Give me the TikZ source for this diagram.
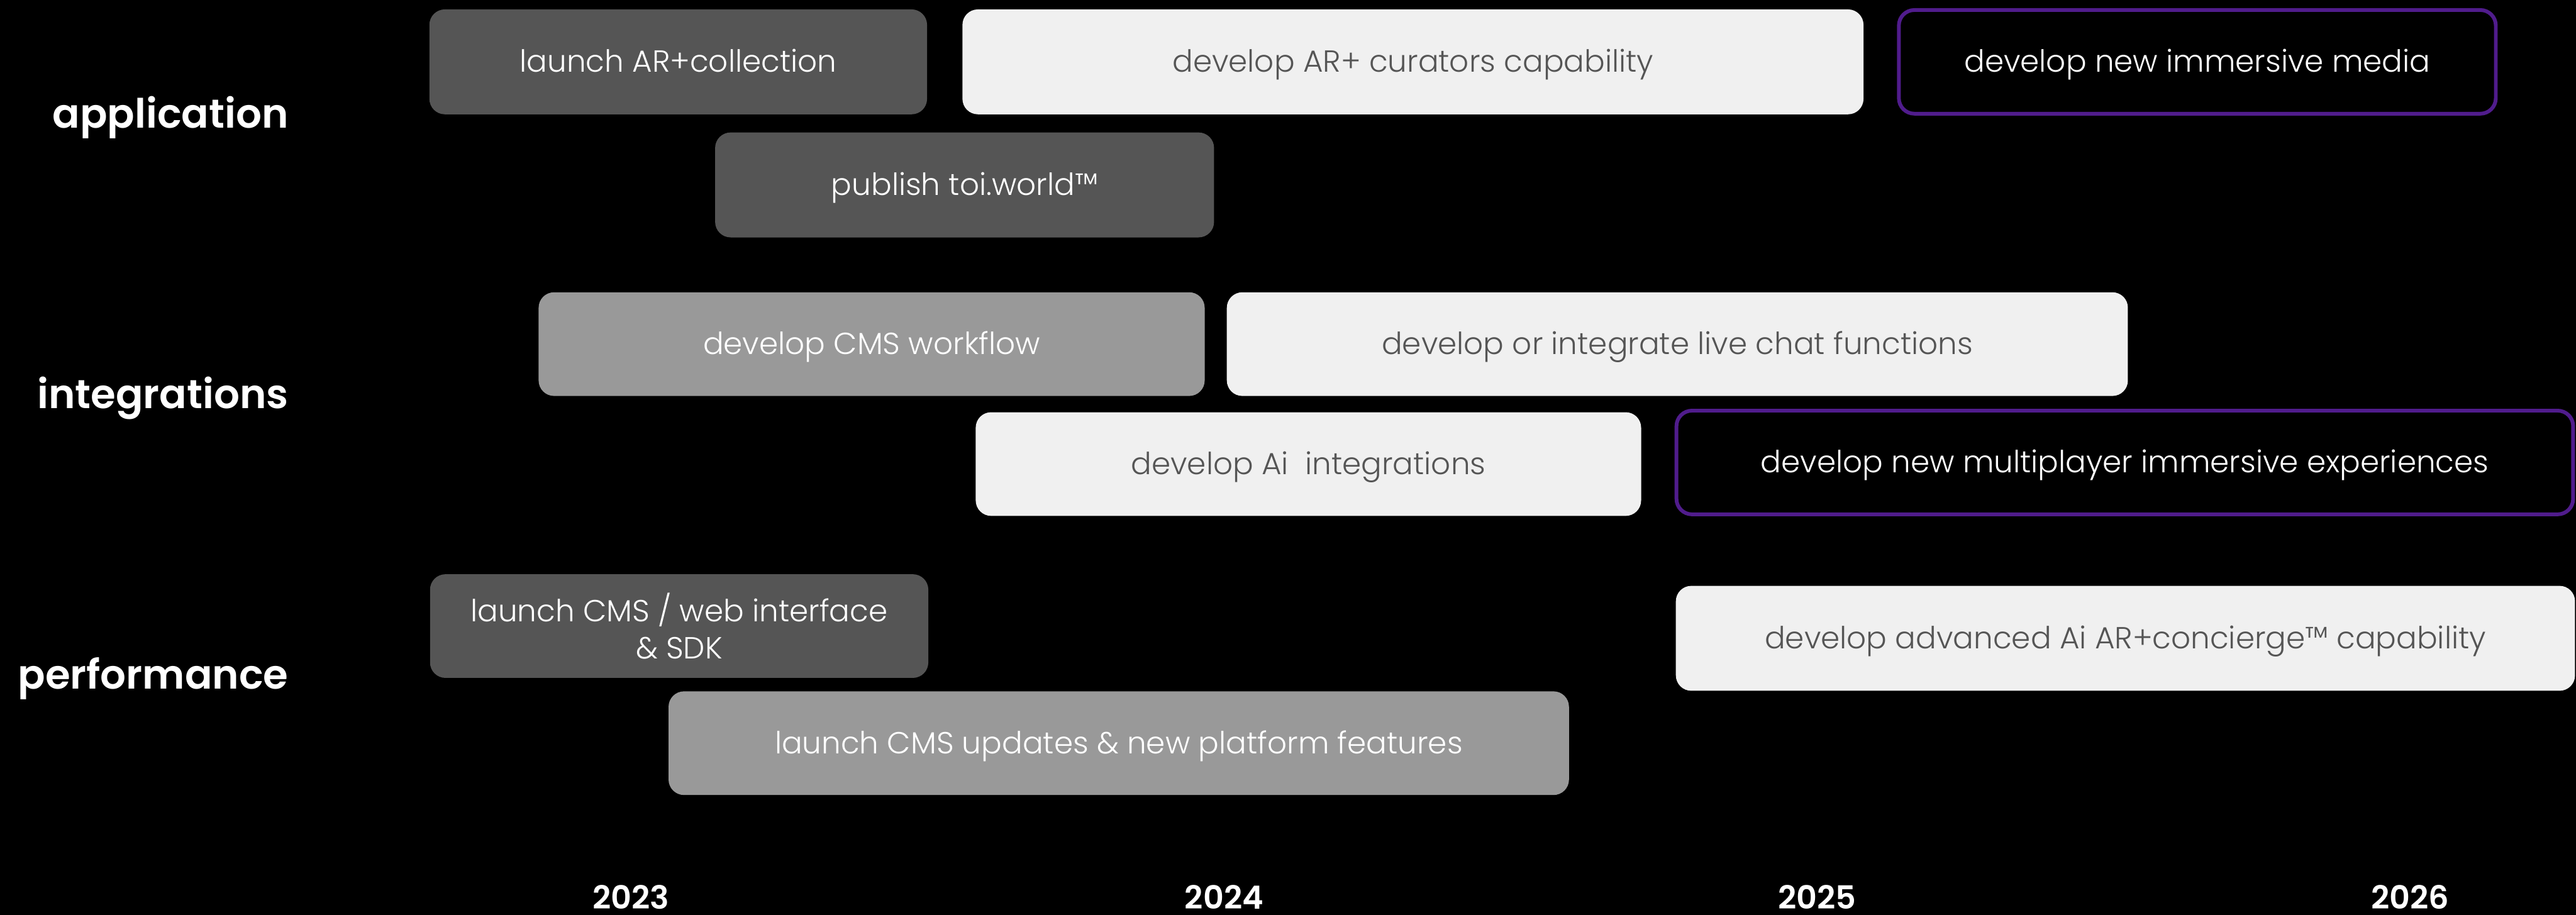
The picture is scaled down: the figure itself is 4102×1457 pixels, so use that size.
\documentclass[tikz,border=0pt]{standalone}
\usepackage{fontspec}
\setmainfont{Poppins Light}
\newfontfamily\headfont{Poppins SemiBold}
\usepackage{xcolor}
\usepackage{tikz}
\definecolor{bardark}{RGB}{85,85,85}
\definecolor{barmid}{RGB}{153,153,153}
\definecolor{barlight}{RGB}{240,240,240}
\definecolor{newpurple}{RGB}{80,28,140}

\begin{document}
\begin{tikzpicture}[x=0.01cm, y=-0.01cm,
  bar/.style={rounded corners=7pt, inner sep=0pt, minimum height=1.67cm,
    align=center, text height=11pt, text depth=1.6pt,
    font=\fontsize{13.8}{17}\selectfont},
  dark/.style={bar, fill=bardark, text=white},
  mid/.style={bar, fill=barmid, text=white},
  light/.style={bar, fill=barlight, text=bardark},
  future/.style={bar, draw=newpurple, line width=1.7pt, text=white, minimum height=1.65cm},
  lane/.style={anchor=base east, inner sep=0pt, text=white, font=\headfont\fontsize{18.3}{22}\selectfont},
  year/.style={anchor=base, inner sep=0pt, text=white, font=\headfont\fontsize{14.5}{16}\selectfont}]
  % ---- page (px grid, y down) ----
  \fill[black] (0,0) rectangle (4102,1457);
  \useasboundingbox (0,0) rectangle (4102,1457);
  % ---- lane titles ----
  \node[lane] (app) at (460,204) {application};
  \node[lane] (integ) at (460,650) {integrations};
  \node[lane] (perf) at (460,1097) {performance};
  % ---- application ----
  \node[dark, minimum width=7.92cm] (arcol) at (1080,98.5) {launch AR+collection};
  \node[light, minimum width=14.34cm] (curators) at (2250,98.5) {develop AR+ curators capability};
  \node[future, minimum width=9.50cm] (media) at (3499,98.5) {develop new immersive media};
  \node[dark, minimum width=7.94cm] (toiworld) at (1536,294.5) {publish toi.world\texttrademark};
  % ---- integrations ----
  \node[mid, minimum width=10.60cm, minimum height=1.65cm] (cmsflow) at (1388,548) {develop CMS workflow};
  \node[light, minimum width=14.34cm, minimum height=1.65cm] (livechat) at (2671,548) {develop or integrate live chat functions};
  \node[light, minimum width=10.59cm, minimum height=1.65cm] (aiint) at (2083.5,739) {develop Ai\ \ integrations};
  \node[future, minimum width=14.27cm] (multi) at (3383.5,736.5) {develop new multiplayer immersive experiences};
  % ---- performance ----
  \node[dark, minimum width=7.93cm, minimum height=1.65cm, text height={}, text depth={}]
    (cmsweb) at (1081.5,997) {launch CMS / web interface\\ \& SDK};
  \node[mid, minimum width=14.33cm, minimum height=1.65cm] (cmsupd) at (1781.5,1183.5) {launch CMS updates \& new platform features};
  \node[light, minimum width=14.31cm] (advai) at (3384.5,1016.5) {develop advanced Ai AR+concierge\texttrademark\ capability};
  % ---- years ----
  \foreach \yr [count=\i from 0] in {2023,2024,2025,2026}
    \node[year] (y\yr) at ({1005+944.3*\i},1448) {\yr};
\end{tikzpicture}
\end{document}
